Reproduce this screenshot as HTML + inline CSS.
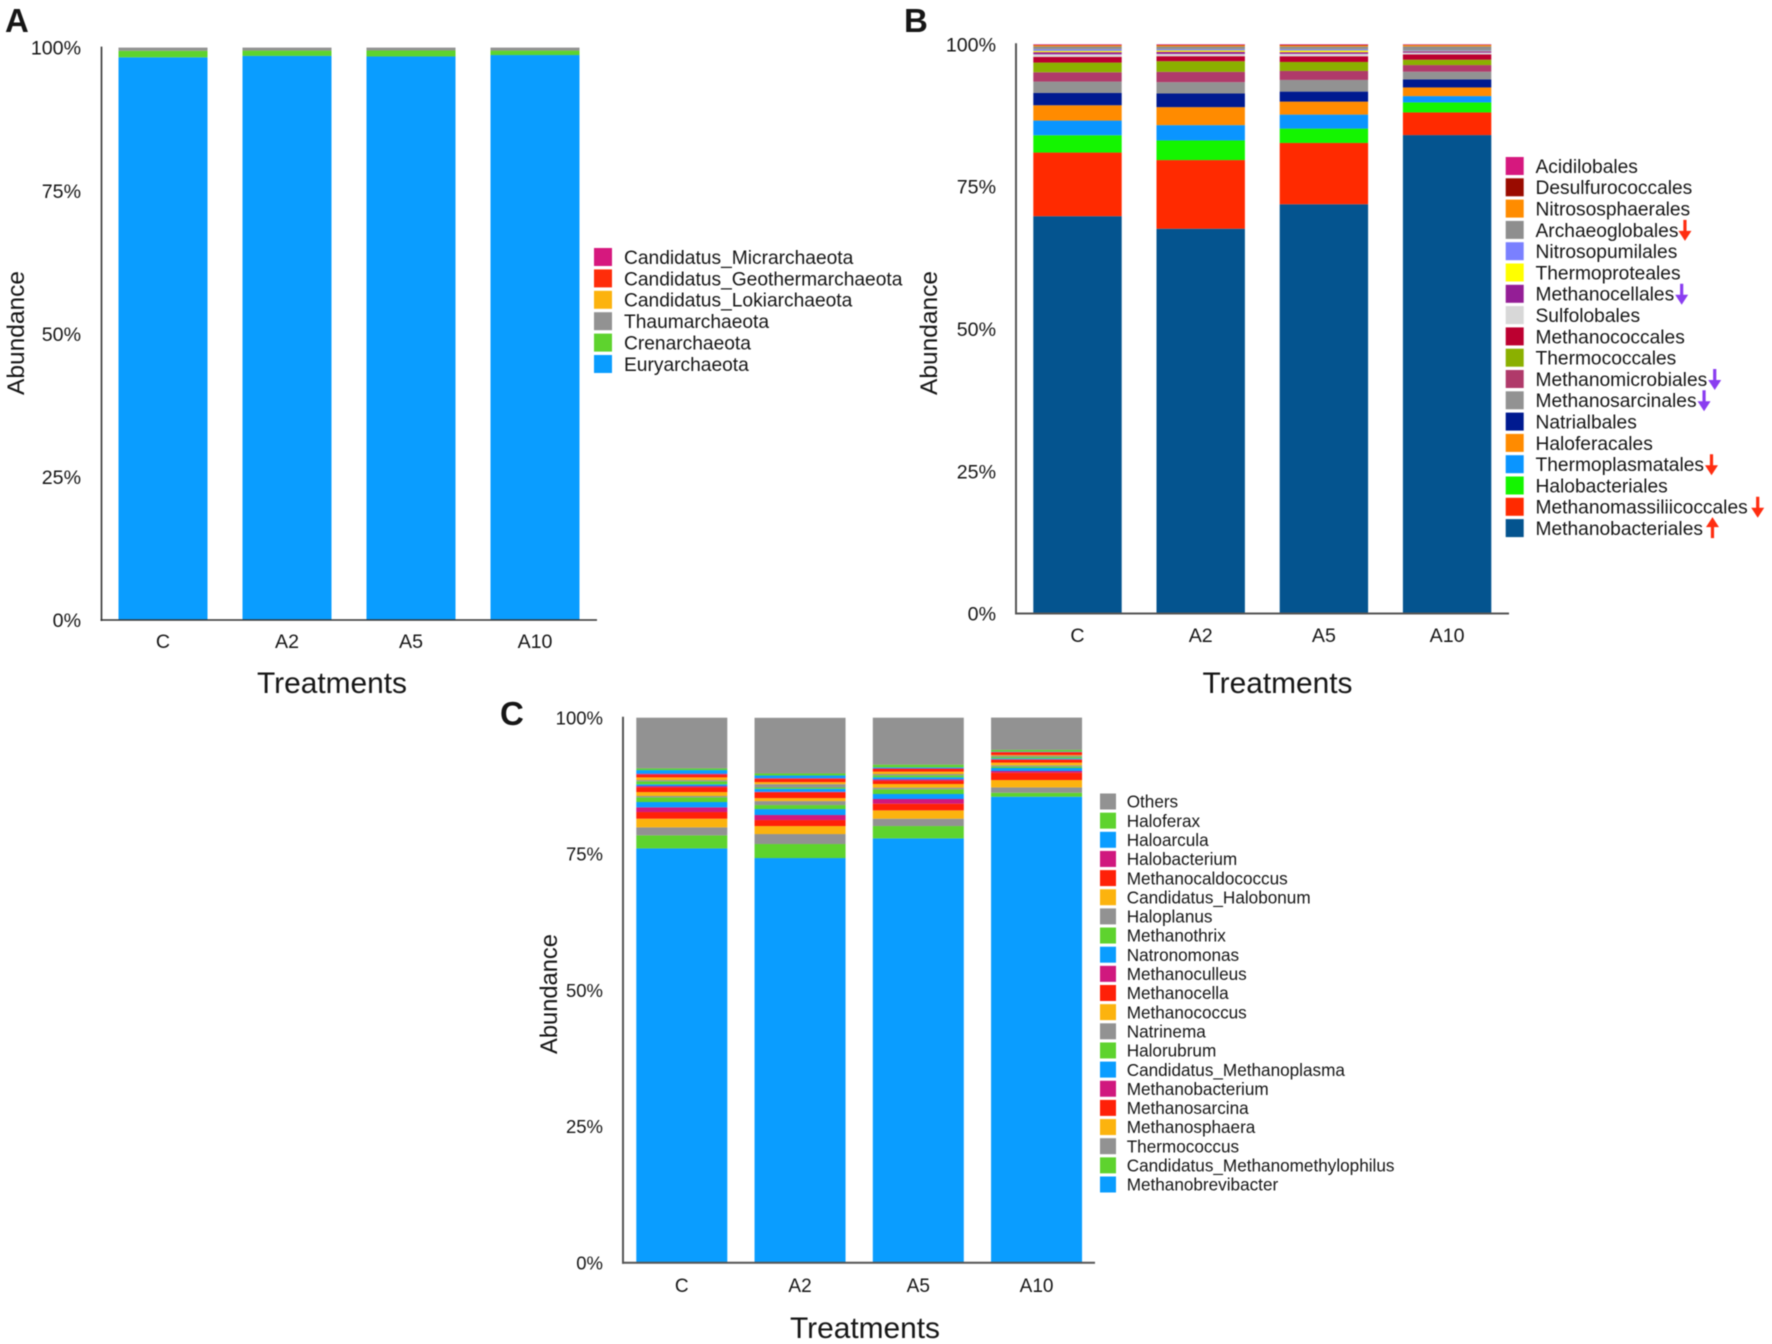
<!DOCTYPE html>
<html lang="en">
<head>
<meta charset="utf-8">
<title>Archaeal community abundance by treatment</title>
<style>
html,body{margin:0;padding:0;background:#fff;width:1772px;height:1344px;overflow:hidden}
svg{display:block;font-family:"Liberation Sans",Arial,sans-serif;filter:blur(0.4px)}
text{fill:#161616}
</style>
</head>
<body>
<svg id="figure" xmlns="http://www.w3.org/2000/svg" width="1772" height="1344" viewBox="0 0 1772 1344"></svg>
<script>
const categories = ['C', 'A2', 'A5', 'A10'];
const tickValues = [0, 25, 50, 75, 100];
const tickLabels = ['0%', '25%', '50%', '75%', '100%'];

/* Panel A: series ordered bottom to top of each bar */
const seriesNamesA = ['Euryarchaeota', 'Crenarchaeota', 'Thaumarchaeota', 'Candidatus_Lokiarchaeota', 'Candidatus_Geothermarchaeota', 'Candidatus_Micrarchaeota'];
const seriesColorsA = ['#0a9dff', '#5ed32e', '#929292', '#fcb30e', '#ff2d0a', '#d6187e'];
const valuesA_C = [98.3, 1.15, 0.55, 0, 0, 0];
const valuesA_A2 = [98.55, 0.93, 0.52, 0, 0, 0];
const valuesA_A5 = [98.45, 1.05, 0.5, 0, 0, 0];
const valuesA_A10 = [98.7, 0.78, 0.52, 0, 0, 0];

/* Panel B */
const seriesNamesB = ['Methanobacteriales', 'Methanomassiliicoccales', 'Halobacteriales', 'Thermoplasmatales', 'Haloferacales', 'Natrialbales', 'Methanosarcinales', 'Methanomicrobiales', 'Thermococcales', 'Methanococcales', 'Sulfolobales', 'Methanocellales', 'Thermoproteales', 'Nitrosopumilales', 'Archaeoglobales', 'Nitrososphaerales', 'Desulfurococcales', 'Acidilobales'];
const seriesColorsB = ['#04548f', '#ff2a00', '#14f500', '#0a95ff', '#ff8b00', '#001a90', '#929292', '#b03a6a', '#8bb000', '#bc0030', '#d8d8d8', '#941e96', '#ffff00', '#7a80ff', '#8e8e8e', '#ff8c00', '#9a0b00', '#d6187e'];
const valuesB_C = [69.8, 11.18, 3.04, 2.58, 2.69, 2.17, 1.99, 1.64, 1.7, 1.0, 0.45, 0.38, 0.22, 0.28, 0.5, 0.2, 0.08, 0.1];
const valuesB_A2 = [67.6, 12.06, 3.45, 2.69, 3.16, 2.4, 1.99, 1.81, 1.87, 0.88, 0.4, 0.38, 0.22, 0.22, 0.48, 0.2, 0.09, 0.1];
const valuesB_A5 = [71.9, 10.77, 2.52, 2.46, 2.28, 1.76, 2.05, 1.58, 1.58, 1.0, 0.42, 0.3, 0.28, 0.22, 0.48, 0.2, 0.09, 0.11];
const valuesB_A10 = [84.05, 3.98, 1.76, 1.11, 1.52, 1.41, 1.35, 1.17, 0.94, 0.94, 0.3, 0.22, 0.06, 0.12, 0.7, 0.22, 0.08, 0.07];

/* Panel C */
const seriesNamesC = ['Methanobrevibacter', 'Candidatus_Methanomethylophilus', 'Thermococcus', 'Methanosphaera', 'Methanosarcina', 'Methanobacterium', 'Candidatus_Methanoplasma', 'Halorubrum', 'Natrinema', 'Methanococcus', 'Methanocella', 'Methanoculleus', 'Natronomonas', 'Methanothrix', 'Haloplanus', 'Candidatus_Halobonum', 'Methanocaldococcus', 'Halobacterium', 'Haloarcula', 'Haloferax', 'Others'];
const seriesColorsC = ['#0a9dff', '#5ed32e', '#929292', '#fcb30e', '#ff2008', '#d0187e', '#0a9dff', '#5ed32e', '#929292', '#fcb30e', '#ff2008', '#d0187e', '#0a9dff', '#5ed32e', '#929292', '#fcb30e', '#ff2008', '#d0187e', '#0a9dff', '#5ed32e', '#929292'];
const valuesC_C = [76.02, 2.39, 1.47, 1.59, 1.22, 0.86, 0.98, 0.86, 0.24, 0.73, 0.86, 0.24, 0.31, 0.55, 0.24, 0.49, 0.49, 0.18, 0.67, 0.31, 9.3];
const valuesC_A2 = [74.25, 2.57, 1.83, 1.47, 1.1, 0.92, 1.1, 0.73, 0.73, 0.55, 1.04, 0.12, 0.55, 0.24, 0.61, 0.37, 0.61, 0.12, 0.49, 0.37, 10.21];
const valuesC_A5 = [77.86, 2.26, 1.35, 1.53, 1.22, 0.86, 0.92, 0.86, 0.31, 0.67, 0.61, 0.24, 0.37, 0.37, 0.24, 0.43, 0.49, 0.12, 0.18, 0.49, 8.62];
const valuesC_A10 = [85.5, 0.73, 0.98, 1.35, 1.35, 0.31, 0.55, 0.25, 0.25, 0.49, 0.55, 0.06, 0.18, 0.25, 0.25, 0.12, 0.49, 0.06, 0.06, 0.31, 5.93];

const SVGNS = 'http://www.w3.org/2000/svg';
const root = document.getElementById('figure');

function slug(s) {
  return String(s).toLowerCase().replace(/[^a-z0-9]+/g, '-').replace(/^-|-$/g, '');
}

function addText(parent, str, x, y, size, anchor, name, weight) {
  const el = document.createElementNS(SVGNS, 'text');
  
  
  el.setAttribute('x', x);
  el.setAttribute('y', y);
  el.setAttribute('font-size', size);
  el.setAttribute('text-anchor', anchor);
  if (weight) el.setAttribute('font-weight', weight);
  el.textContent = str;
  parent.appendChild(el);
  return el;
}

function addLine(parent, x1, y1, x2, y2, color, width, name) {
  const el = document.createElementNS(SVGNS, 'line');
  
  
  el.setAttribute('x1', x1);
  el.setAttribute('y1', y1);
  el.setAttribute('x2', x2);
  el.setAttribute('y2', y2);
  el.setAttribute('stroke', color);
  el.setAttribute('stroke-width', width);
  parent.appendChild(el);
}

function addArrow(parent, cx, y0, y1, color, name) {
  const dir = y1 > y0 ? 1 : -1;
  const el = document.createElementNS(SVGNS, 'path');
  const headBase = y1 - dir * 10;
  
  
  el.setAttribute('d', 'M' + (cx - 1.6) + ' ' + y0 + 'L' + (cx + 1.6) + ' ' + y0 + 'L' + (cx + 1.6) + ' ' + headBase + 'L' + (cx + 6.5) + ' ' + headBase + 'L' + cx + ' ' + y1 + 'L' + (cx - 6.5) + ' ' + headBase + 'L' + (cx - 1.6) + ' ' + headBase + 'Z');
  el.setAttribute('fill', color);
  parent.appendChild(el);
}

function drawPanel(cfg) {
  const g = document.createElementNS(SVGNS, 'g');
  
  
  root.appendChild(g);

  const yAxis = function (v) { return cfg.bottom - (cfg.bottom - cfg.top) * v / 100; };
  const xAxis = function (i) { return cfg.firstCenter + cfg.step * i; };

  addText(g, cfg.letter, cfg.letterX, cfg.letterY, 33, 'start', 'panel-label-' + cfg.letter.toLowerCase(), 'bold');

  cfg.columns.forEach(function (col, i) {
    let acc = 0;
    col.forEach(function (v, s) {
      if (v <= 0) { return; }
      const rect = document.createElementNS(SVGNS, 'rect');
      
      
      rect.setAttribute('x', xAxis(i) - cfg.barWidth / 2);
      rect.setAttribute('y', yAxis(acc + v));
      rect.setAttribute('width', cfg.barWidth);
      rect.setAttribute('height', yAxis(acc) - yAxis(acc + v));
      rect.setAttribute('fill', cfg.colors[s]);
      g.appendChild(rect);
      acc += v;
    });
  });

  addLine(g, cfg.axisX, cfg.top - 1, cfg.axisX, cfg.bottom + 1, cfg.axisColor, cfg.axisWidth, 'y-axis-line');
  addLine(g, cfg.axisX - 1, cfg.bottom, cfg.axisRight, cfg.bottom, cfg.axisColor, cfg.axisWidth, 'x-axis-line');

  tickValues.forEach(function (t, i) {
    addText(g, tickLabels[i], cfg.tickRight, yAxis(t) + cfg.tickSize * 0.36, cfg.tickSize, 'end', 'y-tick-label-' + t);
  });
  categories.forEach(function (c, i) {
    addText(g, c, xAxis(i), cfg.catBaseline, cfg.catSize, 'middle', 'x-tick-label-' + slug(c));
  });

  const yTitle = addText(g, 'Abundance', 0, 0, cfg.yTitleSize, 'middle', 'y-axis-title');
  yTitle.setAttribute('transform', 'translate(' + cfg.yTitleX + ' ' + cfg.yTitleY + ') rotate(-90)');
  const xTitle = addText(g, 'Treatments', cfg.xTitleX, cfg.xTitleBaseline, 30, 'middle', 'x-axis-title');
  xTitle.setAttribute('textLength', 150);
  xTitle.setAttribute('lengthAdjust', 'spacingAndGlyphs');

  const legend = document.createElementNS(SVGNS, 'g');
  
  
  g.appendChild(legend);
  const n = cfg.names.length;
  for (let s = n - 1; s >= 0; s--) {
    const row = n - 1 - s;
    const cy = cfg.legendY + row * cfg.legendStep;
    const sw = document.createElementNS(SVGNS, 'rect');
    
    
    sw.setAttribute('x', cfg.swatchX);
    sw.setAttribute('y', cy - cfg.swatchSize / 2);
    sw.setAttribute('width', cfg.swatchSize);
    sw.setAttribute('height', cfg.swatchSize);
    sw.setAttribute('fill', cfg.colors[s]);
    legend.appendChild(sw);
    const label = addText(legend, cfg.names[s], cfg.legendTextX, cy + cfg.legendSize * 0.36, cfg.legendSize, 'start', 'legend-entry-' + slug(cfg.names[s]));
    const mark = cfg.arrows && cfg.arrows[cfg.names[s]];
    if (mark) {
      const ax = cfg.legendTextX + label.getComputedTextLength() + mark.gap;
      if (mark.up) {
        addArrow(legend, ax, cy + 10, cy - 11, mark.color, 'trend-arrow-' + slug(cfg.names[s]));
      } else {
        addArrow(legend, ax, cy - 10, cy + 11, mark.color, 'trend-arrow-' + slug(cfg.names[s]));
      }
    }
  }
}

drawPanel({
  letter: 'A', letterX: 5, letterY: 32,
  names: seriesNamesA, colors: seriesColorsA,
  columns: [valuesA_C, valuesA_A2, valuesA_A5, valuesA_A10],
  top: 47.6, bottom: 620, firstCenter: 163, step: 124, barWidth: 89,
  axisX: 101.5, axisRight: 597, axisColor: '#333', axisWidth: 1.6,
  tickRight: 81, tickSize: 19.6, catSize: 19.6, catBaseline: 648,
  yTitleX: 24, yTitleY: 333, yTitleSize: 24.5,
  xTitleX: 332, xTitleBaseline: 693,
  swatchX: 594, swatchSize: 18, legendTextX: 624, legendY: 257, legendStep: 21.4, legendSize: 19.2
});

drawPanel({
  letter: 'B', letterX: 904, letterY: 32,
  names: seriesNamesB, colors: seriesColorsB,
  columns: [valuesB_C, valuesB_A2, valuesB_A5, valuesB_A10],
  top: 44.3, bottom: 613.5, firstCenter: 1077.5, step: 123.2, barWidth: 88.4,
  axisX: 1016, axisRight: 1509, axisColor: '#555', axisWidth: 2,
  tickRight: 996, tickSize: 19.6, catSize: 19.6, catBaseline: 642,
  yTitleX: 937, yTitleY: 333, yTitleSize: 24.5,
  xTitleX: 1277.5, xTitleBaseline: 693,
  swatchX: 1505.7, swatchSize: 18, legendTextX: 1535.5, legendY: 166, legendStep: 21.3, legendSize: 19.2,
  arrows: {
    Archaeoglobales: { color: '#ff2d10', gap: 6.5 },
    Methanocellales: { color: '#8a3df0', gap: 7.5 },
    Methanomicrobiales: { color: '#8a3df0', gap: 7.5 },
    Methanosarcinales: { color: '#8a3df0', gap: 7.5 },
    Thermoplasmatales: { color: '#ff2d10', gap: 7.5 },
    Methanomassiliicoccales: { color: '#ff2d10', gap: 10 },
    Methanobacteriales: { color: '#ff2d10', gap: 9.5, up: true }
  }
});

drawPanel({
  letter: 'C', letterX: 500, letterY: 725,
  names: seriesNamesC, colors: seriesColorsC,
  columns: [valuesC_C, valuesC_A2, valuesC_A5, valuesC_A10],
  top: 717.7, bottom: 1262.7, firstCenter: 681.8, step: 118.25, barWidth: 91,
  axisX: 623, axisRight: 1095, axisColor: '#555', axisWidth: 2,
  tickRight: 603, tickSize: 18.5, catSize: 19, catBaseline: 1292,
  yTitleX: 557, yTitleY: 994, yTitleSize: 23.7,
  xTitleX: 865, xTitleBaseline: 1338,
  swatchX: 1100, swatchSize: 16, legendTextX: 1126.7, legendY: 801.5, legendStep: 19.15, legendSize: 17.15
});
</script>
</body>
</html>
